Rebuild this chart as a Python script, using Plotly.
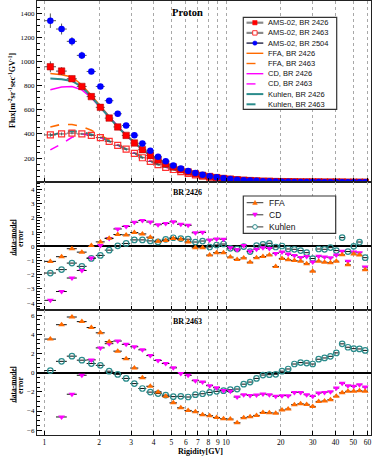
import numpy as np
import plotly.graph_objects as go

# ---------------- data ----------------
edges = [1.00, 1.16, 1.33, 1.51, 1.71, 1.92, 2.15, 2.40, 2.67, 2.97, 3.29, 3.64, 4.02, 4.43, 4.88,
         5.37, 5.90, 6.47, 7.09, 7.76, 8.48, 9.26, 10.1, 11.0, 12.0, 13.0, 14.1, 15.3, 16.6, 18.0,
         19.5, 21.1, 22.8, 24.7, 26.7, 28.8, 31.1, 33.5, 36.1, 38.9, 41.9, 45.1, 48.5, 52.2, 56.1, 60.3]

flux_br2426 = [956, 920, 857, 793, 709, 620, 531, 458, 388, 325, 270, 222, 184, 153, 127,
               104, 86, 71, 58, 48, 39, 32, 26, 21, 17, 14, 11.5, 9.3, 7.6, 6.2,
               5.0, 4.1, 3.3, 2.7, 2.2, 1.8, 1.45, 1.2, 0.97, 0.79, 0.65, 0.53, 0.43, 0.35, 0.29]
err_br2426 = [45, 32, 25, 20, 16, 14, 12, 10, 9, 8, 7, 6, 5, 4, 3.5,
              3, 2.5, 2, 1.7, 1.4, 1.2, 1, 0.8, 0.7, 0.6, 0.5, 0.4, 0.35, 0.3, 0.25,
              0.2, 0.17, 0.14, 0.12, 0.1, 0.08, 0.07, 0.06, 0.05, 0.04, 0.035, 0.03, 0.025, 0.02, 0.018]
flux_br2463 = [392, 400, 407, 400, 388, 370, 338, 306, 275, 240, 203, 173, 146, 124, 106,
               89, 74, 62, 51, 42, 35, 29, 23.5, 19, 15.6, 12.8, 10.5, 8.6, 7.0, 5.7,
               4.7, 3.85, 3.15, 2.6, 2.1, 1.72, 1.4, 1.15, 0.94, 0.77, 0.63, 0.51, 0.42, 0.34, 0.28]
err_br2463 = [15, 12, 10, 9, 8, 7, 6, 5.5, 5, 4.5, 4, 3.5, 3, 2.5, 2.2,
              2, 1.7, 1.4, 1.2, 1, 0.9, 0.8, 0.7, 0.6, 0.5, 0.4, 0.35, 0.3, 0.25, 0.2,
              0.17, 0.14, 0.12, 0.1, 0.08, 0.07, 0.06, 0.05, 0.04, 0.035, 0.03, 0.025, 0.02, 0.018, 0.015]
flux_br2504 = [1337, 1268, 1166, 1050, 917, 793, 675, 567, 470, 390, 322, 262, 212, 175, 140,
               114, 93, 76, 62, 50, 41, 33.5, 27, 22, 17.8, 14.5, 12, 9.7, 7.9, 6.4,
               5.2, 4.25, 3.45, 2.8, 2.3, 1.85, 1.5, 1.23, 1.0, 0.82, 0.67, 0.55, 0.45, 0.36, 0.3]
err_br2504 = [60, 45, 35, 30, 22, 20, 17, 14, 12, 10, 8, 7, 6, 5, 4,
              3.5, 3, 2.5, 2, 1.7, 1.4, 1.2, 1, 0.8, 0.7, 0.6, 0.5, 0.4, 0.35, 0.3,
              0.25, 0.2, 0.17, 0.14, 0.12, 0.1, 0.08, 0.07, 0.06, 0.05, 0.04, 0.035, 0.03, 0.025, 0.02]

ffa_2426 = [900, 890, 872, 805, 720, 630, 540, 462, 392, 328, 272, 225, 187, 155, 128,
            105, 87, 72, 59, 49, 40, 33, 27, 22, 17.8, 14.5, 11.9, 9.7, 7.9, 6.4,
            5.2, 4.25, 3.45, 2.8, 2.28, 1.85, 1.5, 1.23, 1.0, 0.82, 0.67, 0.55, 0.45, 0.37, 0.3]
ffa_2463 = [457, 480, 478, 462, 430, 392, 350, 312, 278, 243, 207, 176, 149, 126, 107,
            90, 75, 62.5, 51.5, 42.5, 35, 29, 23.7, 19.2, 15.7, 12.9, 10.6, 8.7, 7.05, 5.75,
            4.7, 3.87, 3.17, 2.6, 2.12, 1.73, 1.41, 1.16, 0.95, 0.77, 0.63, 0.52, 0.42, 0.34, 0.28]
cd_2426 = [766, 788, 793, 765, 700, 618, 535, 460, 390, 326, 270, 223, 185, 153, 126,
           104, 86, 71, 58, 48, 39, 32, 26, 21.3, 17.3, 14.1, 11.6, 9.4, 7.7, 6.25,
           5.05, 4.1, 3.35, 2.72, 2.21, 1.8, 1.46, 1.19, 0.97, 0.79, 0.65, 0.53, 0.43, 0.35, 0.29]
cd_2463 = [268, 318, 372, 398, 392, 370, 340, 308, 276, 241, 205, 174, 147, 125, 106,
           89, 74, 62, 51, 42, 35, 28.8, 23.5, 19, 15.6, 12.8, 10.5, 8.6, 7.0, 5.7,
           4.65, 3.83, 3.13, 2.58, 2.1, 1.71, 1.4, 1.15, 0.94, 0.77, 0.63, 0.51, 0.42, 0.34, 0.28]
kuhlen_2426 = [858, 852, 838, 790, 708, 620, 532, 458, 390, 326, 271, 224, 186, 154, 127,
               105, 86, 71, 58.5, 48, 39.5, 32.5, 26.5, 21.5, 17.5, 14.2, 11.7, 9.5, 7.75, 6.3,
               5.1, 4.15, 3.4, 2.75, 2.23, 1.82, 1.47, 1.2, 0.98, 0.8, 0.66, 0.54, 0.44, 0.36, 0.3]
kuhlen_2463 = [388, 412, 424, 418, 396, 372, 340, 308, 276, 241, 205, 174, 147, 125, 106,
               89, 74, 62, 51, 42, 35, 28.8, 23.5, 19, 15.6, 12.8, 10.5, 8.6, 7.0, 5.7,
               4.65, 3.83, 3.13, 2.58, 2.1, 1.71, 1.4, 1.15, 0.94, 0.77, 0.63, 0.51, 0.42, 0.34, 0.28]

# residuals (data-model)/error, BR 2426
res_ffa_2426 = [-1.06, -0.73, -0.17, -0.41, 0.05, 0.31, 0.57, 0.83, 0.80, 0.97, 0.87, 0.64, 0.36, 0.40, 0.55,
                0.50, 0.30, -0.10, -0.10, -0.62, -0.45, -0.45, -0.76, -0.92, -0.82, -1.12, -0.80, -0.72, -0.62, -1.42,
                -0.85, -0.95, -1.00, -1.05, -1.22, -1.75, -1.05, -1.12, -1.15, -1.05, -0.60, -1.30, -0.55, -0.62, -1.65]
res_cd_2426 = [-3.80, -3.18, -2.23, -1.70, -0.82, 0.05, 0.55, 1.22, 1.40, 1.69, 1.81, 1.71, 1.52, 1.60, 1.72,
               1.55, 1.48, 0.95, 0.98, 0.45, 0.52, 0.50, -0.10, -0.25, 0.05, -0.35, -0.20, -0.10, -0.15, -0.50,
               -0.40, -0.55, -0.65, -0.78, -0.72, -1.10, -0.70, -0.75, -0.80, -0.62, -0.35, -1.05, -0.40, -0.45, -1.45]
res_kuhlen_2426 = [-1.88, -1.64, -1.18, -1.41, -0.85, -0.64, -0.27, 0.03, 0.20, 0.45, 0.45, 0.38, 0.31, 0.49, 0.60,
                   0.54, 0.50, 0.30, 0.37, -0.05, 0.09, 0.16, -0.14, -0.19, -0.02, -0.37, 0.05, 0.14, 0.21, -0.05,
                   0.02, -0.19, -0.21, -0.30, -0.45, -0.86, -0.19, -0.21, -0.09, -0.30, 0.61, -0.37, 0.00, 0.30, -0.80]
# residuals, BR 2463
res_ffa_2463 = [3.50, 5.00, 5.80, 5.32, 4.70, 4.15, 3.23, 2.24, 1.46, 0.48, -0.53, -1.42, -2.02, -2.45, -3.15,
                -3.67, -3.94, -4.08, -4.39, -4.49, -4.67, -4.81, -4.84, -5.23, -4.70, -4.60, -4.46, -4.15, -4.18, -4.22,
                -3.90, -3.80, -3.34, -3.24, -3.31, -3.52, -3.00, -2.96, -2.82, -2.47, -2.09, -1.95, -1.95, -1.88, -1.95]
res_cd_2463 = [-7.50, -4.62, -2.25, -0.27, 1.33, 2.58, 3.02, 3.30, 2.95, 2.70, 2.38, 1.78, 1.27, 0.95, 0.50,
               -0.08, -0.28, -0.84, -0.98, -1.36, -1.57, -1.85, -1.95, -2.54, -2.30, -2.37, -2.33, -2.23, -2.30, -2.47,
               -2.40, -2.40, -2.06, -2.06, -2.30, -2.47, -2.13, -2.06, -1.99, -1.60, -1.10, -1.36, -1.43, -1.25, -1.50]
res_kuhlen_2463 = [0.22, 1.18, 1.72, 1.30, 0.95, 0.76, 0.15, -0.18, -0.60, -1.14, -1.65, -2.03, -2.18, -2.34, -2.50,
                   -2.47, -2.54, -2.30, -2.20, -2.06, -1.95, -1.88, -1.78, -1.71, -1.20, -0.98, -0.60, -0.25, -0.21, -0.17,
                   0.15, 0.38, 0.90, 1.05, 1.00, 0.90, 1.40, 1.53, 1.70, 2.06, 3.00, 2.65, 2.50, 2.47, 2.32]

x_ticks = [1, 2, 3, 4, 5, 6, 7, 8, 9, 10, 20, 30, 40, 50, 60]
flux_ticks = [200, 400, 600, 800, 1000, 1200, 1400]

# ---------------- geometry helpers ----------------
W, H = 374, 457
ML, MR, MT, MB = 37, 3, 1, 22
PW, PH = W - ML - MR, H - MT - MB


def px(x):
    return (x - ML) / PW


def py(y):
    return (H - MB - y) / PH


lo = np.array(edges[:-1])
hi = np.array(edges[1:])
ctr = (lo + hi) / 2.0
ex_p = hi - ctr
ex_m = ctr - lo

RED = '#ff0000'
RED2 = '#ff3030'
BLUE = '#0000ff'
ORANGE = '#ff6a00'
MAGENTA = '#ff00ff'
TEAL = '#2b8c8c'
SERIF = 'Liberation Serif, Times New Roman, serif'
SANS = 'Liberation Sans, Arial, sans-serif'

fig = go.Figure()

# ----- top panel: model curves -----
curves = [
    (ffa_2426, ORANGE, 'solid', 1.6, 'FFA, BR 2426'),
    (ffa_2463, ORANGE, 'dash', 1.6, 'FFA, BR 2463'),
    (cd_2426, MAGENTA, 'solid', 1.6, 'CD, BR 2426'),
    (cd_2463, MAGENTA, 'dash', 1.6, 'CD, BR 2463'),
    (kuhlen_2426, TEAL, 'solid', 2.0, 'Kuhlen, BR 2426'),
    (kuhlen_2463, TEAL, 'dash', 2.0, 'Kuhlen, BR 2463'),
]
for vals, col, dash, w, name in curves:
    fig.add_trace(go.Scatter(x=ctr, y=vals, mode='lines', name=name,
                             line=dict(color=col, dash=dash, width=w),
                             xaxis='x', yaxis='y', showlegend=False))

# ----- top panel: data -----
data_sets = [
    (flux_br2463, err_br2463, dict(symbol='square-open', color=RED2, size=6, line=dict(width=1.2, color=RED2)), 'AMS-02, BR 2463'),
    (flux_br2426, err_br2426, dict(symbol='square', color=RED, size=6.5, line=dict(width=0.5, color='#aa0000')), 'AMS-02, BR 2426'),
    (flux_br2504, err_br2504, dict(symbol='circle', color=BLUE, size=6.5, line=dict(width=0)), 'AMS-02, BR 2504'),
]
for vals, err, mk, name in data_sets:
    fig.add_trace(go.Scatter(
        x=ctr, y=vals, mode='markers', name=name, marker=mk,
        error_x=dict(type='data', array=ex_p, arrayminus=ex_m, color='#555555', thickness=1, width=0),
        error_y=dict(type='data', array=err, color='#555555', thickness=1, width=0),
        xaxis='x', yaxis='y', showlegend=False))

# ----- residual panels -----
res_panels = [
    ('y2', res_ffa_2426, res_cd_2426, res_kuhlen_2426),
    ('y3', res_ffa_2463, res_cd_2463, res_kuhlen_2463),
]
for ya, rf, rc, rk in res_panels:
    xa = 'x2' if ya == 'y2' else 'x3'
    for vals, mk, name in [
        (rk, dict(symbol='circle-open', color=TEAL, size=5.5, line=dict(width=1.2, color=TEAL)), 'Kuhlen'),
        (rc, dict(symbol='triangle-down', color=MAGENTA, size=6, line=dict(width=0)), 'CD'),
        (rf, dict(symbol='triangle-up', color=ORANGE, size=6, line=dict(width=0)), 'FFA'),
    ]:
        fig.add_trace(go.Scatter(
            x=ctr, y=vals, mode='markers', name=name, marker=mk,
            error_x=dict(type='data', array=ex_p, arrayminus=ex_m, color='#111111', thickness=1, width=0),
            xaxis=xa, yaxis=ya, showlegend=False))

# ----- axes -----
xrange_log = [-0.040, 1.797]
xcommon = dict(type='log', range=xrange_log, tickvals=x_ticks, ticktext=[str(v) for v in x_ticks],
               showgrid=True, gridcolor='#a8a8a8', griddash='dot', gridwidth=0.8,
               ticks='inside', ticklen=4, tickcolor='black', showline=True, linecolor='#222222',
               linewidth=1.2, mirror=True, zeroline=False, automargin=False,
               tickfont=dict(family=SERIF, size=7.5, color='black'))

d_top = [py(182.3), 1.0]
d_mid = [py(310.3), py(182.3)]
d_bot = [0.0, py(310.3)]

ycommon = dict(ticks='inside', ticklen=5, tickcolor='black', showline=True, linecolor='#222222',
               linewidth=1.2, mirror=True, showgrid=False, automargin=False,
               tickfont=dict(family=SERIF, size=7, color='black'))

fig.update_layout(
    width=W, height=H,
    margin=dict(l=ML, r=MR, t=MT, b=MB, pad=0),
    paper_bgcolor='white', plot_bgcolor='white',
    showlegend=False,
    xaxis=dict(xcommon, domain=[0, 1], anchor='y', showticklabels=False),
    xaxis2=dict(xcommon, domain=[0, 1], anchor='y2', matches='x', showticklabels=False),
    xaxis3=dict(xcommon, domain=[0, 1], anchor='y3', matches='x', showticklabels=True),
    yaxis=dict(ycommon, domain=d_top, range=[0, 1500], tickvals=flux_ticks, zeroline=False,
               minor=dict(ticks='inside', ticklen=2.5, dtick=50, tickcolor='black', showgrid=False)),
    yaxis2=dict(ycommon, domain=d_mid, range=[-4.5, 4.5], tickvals=[-4, -3, -2, -1, 0, 1, 2, 3, 4],
                zeroline=True, zerolinecolor='black', zerolinewidth=1.6,
                minor=dict(ticks='inside', ticklen=2.5, dtick=0.2, tickcolor='black', showgrid=False)),
    yaxis3=dict(ycommon, domain=d_bot, range=[-6.5, 6.5], tickvals=[-6, -4, -2, 0, 2, 4, 6],
                zeroline=True, zerolinecolor='black', zerolinewidth=1.6,
                minor=dict(ticks='inside', ticklen=2.5, dtick=0.5, tickcolor='black', showgrid=False)),
)

# ----- annotations (titles) -----
ann = []


def add_text(text, x, y, size, family=SERIF, angle=0, xanchor='center', color='black'):
    ann.append(dict(text=text, x=px(x), y=py(y), xref='paper', yref='paper', showarrow=False,
                    textangle=angle, xanchor=xanchor, yanchor='middle',
                    font=dict(family=family, size=size, color=color)))


add_text('<b>Proton</b>', 187, 13, 10.5)
add_text('<b>BR 2426</b>', 187.5, 192, 8)
add_text('<b>BR 2463</b>', 187.5, 321, 8)
add_text('<b>Flux[m<sup>-2</sup>sr<sup>-1</sup>sec<sup>-1</sup>GV<sup>-1</sup>]</b>', 12, 91, 8, angle=-90)
add_text('<b>Rigidity[GV]</b>', 200, 451, 8)

shapes = []
for yc in (238, 385):
    add_text('<b>data-model</b>', 12.5, yc, 7.5, angle=-90)
    add_text('<b>error</b>', 20, yc, 7.5, angle=-90)
    shapes.append(dict(type='line', xref='paper', yref='paper', x0=px(16), x1=px(16),
                       y0=py(yc - 18), y1=py(yc + 18), line=dict(color='black', width=0.8)))

# ----- custom legends -----


def marker_shape(kind, cx, cy, color, s=2.6):
    if kind == 'square':
        return dict(type='rect', xref='paper', yref='paper', x0=px(cx - s), x1=px(cx + s),
                    y0=py(cy + s), y1=py(cy - s), fillcolor=color, line=dict(color=color, width=0.5))
    if kind == 'square-open':
        return dict(type='rect', xref='paper', yref='paper', x0=px(cx - s), x1=px(cx + s),
                    y0=py(cy + s), y1=py(cy - s), fillcolor='white', line=dict(color=color, width=1))
    if kind == 'circle':
        return dict(type='circle', xref='paper', yref='paper', x0=px(cx - s), x1=px(cx + s),
                    y0=py(cy + s), y1=py(cy - s), fillcolor=color, line=dict(color=color, width=0.5))
    if kind == 'circle-open':
        return dict(type='circle', xref='paper', yref='paper', x0=px(cx - s), x1=px(cx + s),
                    y0=py(cy + s), y1=py(cy - s), fillcolor='white', line=dict(color=color, width=1))
    if kind == 'tri-up':
        path = 'M {},{} L {},{} L {},{} Z'.format(px(cx - s), py(cy + s * 0.8), px(cx + s), py(cy + s * 0.8),
                                                  px(cx), py(cy - s))
        return dict(type='path', xref='paper', yref='paper', path=path, fillcolor=color, line=dict(color=color, width=0.5))
    if kind == 'tri-down':
        path = 'M {},{} L {},{} L {},{} Z'.format(px(cx - s), py(cy - s * 0.8), px(cx + s), py(cy - s * 0.8),
                                                  px(cx), py(cy + s))
        return dict(type='path', xref='paper', yref='paper', path=path, fillcolor=color, line=dict(color=color, width=0.5))


# top legend box
shapes.append(dict(type='rect', xref='paper', yref='paper', x0=px(243.3), x1=px(336.7), y0=py(109.3), y1=py(17.3),
                   fillcolor='white', line=dict(color='#333333', width=1.2)))
top_entries = [
    ('AMS-02, BR 2426', '#8a8a8a', 'solid', 2.2, 'square', RED),
    ('AMS-02, BR 2463', '#8a8a8a', 'solid', 2.2, 'square-open', RED2),
    ('AMS-02, BR 2504', '#222244', 'solid', 1.4, 'circle', BLUE),
    ('FFA, BR 2426', ORANGE, 'solid', 1.4, None, None),
    ('FFA, BR 2463', ORANGE, 'dash', 1.4, None, None),
    ('CD, BR 2426', MAGENTA, 'solid', 1.4, None, None),
    ('CD, BR 2463', MAGENTA, 'dash', 1.4, None, None),
    ('Kuhlen, BR 2426', TEAL, 'solid', 2.0, None, None),
    ('Kuhlen, BR 2463', TEAL, 'dash', 2.0, None, None),
]
for i, (label, lc, dash, lw, mk, mc) in enumerate(top_entries):
    yc = 22.7 + 10.2 * i
    shapes.append(dict(type='line', xref='paper', yref='paper', x0=px(246.5), x1=px(263.3), y0=py(yc), y1=py(yc),
                       line=dict(color=lc, width=lw, dash=dash)))
    if mk:
        shapes.append(marker_shape(mk, 254.9, yc, mc, s=2.2))
    add_text(label, 266.3, yc, 7.5, family=SANS, xanchor='left', color='#111111')

# middle legend box
shapes.append(dict(type='rect', xref='paper', yref='paper', x0=px(243.3), x1=px(335.7), y0=py(233.3), y1=py(196),
                   fillcolor='white', line=dict(color='#333333', width=1.2)))
mid_entries = [('FFA', 'tri-up', ORANGE), ('CD', 'tri-down', MAGENTA), ('Kuhlen', 'circle-open', TEAL)]
for i, (label, mk, mc) in enumerate(mid_entries):
    yc = 202.7 + 12.1 * i
    shapes.append(dict(type='line', xref='paper', yref='paper', x0=px(246.7), x1=px(263.3), y0=py(yc), y1=py(yc),
                       line=dict(color='#333333', width=1)))
    shapes.append(marker_shape(mk, 255, yc, mc, s=2.3))
    add_text(label, 266.7, yc, 8.5, family=SANS, xanchor='left', color='#111111')

fig.update_layout(annotations=ann, shapes=shapes)

fig.write_html('out.html', config={'displayModeBar': False},
               post_script="document.body.style.margin='0';document.body.style.padding='0';")
